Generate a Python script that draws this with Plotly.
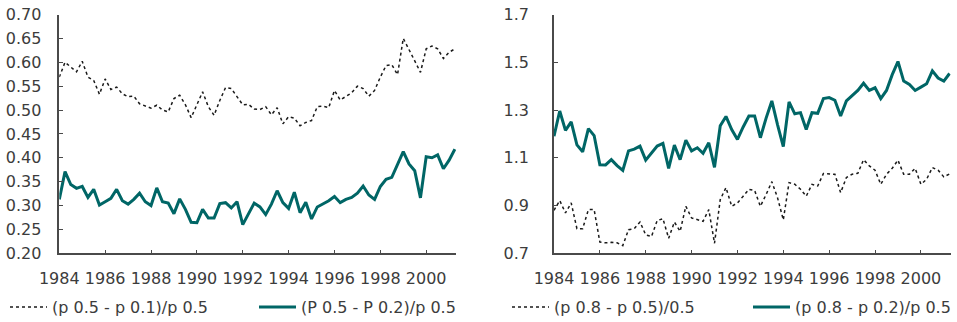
import plotly.graph_objects as go
from plotly.subplots import make_subplots

# Quarterly observations, 1984Q1 .. 2001Q2
start_year = 1984
n_quarters = 70
quarters = [start_year + i / 4 for i in range(n_quarters)]

# Left panel: lower-tail ratios
p50_p10 = [0.569, 0.600, 0.590, 0.580, 0.602, 0.569, 0.562, 0.533, 0.565, 0.543,
           0.548, 0.534, 0.528, 0.529, 0.513, 0.508, 0.504, 0.510, 0.500, 0.496,
           0.524, 0.531, 0.511, 0.484, 0.512, 0.538, 0.507, 0.489, 0.520, 0.547,
           0.545, 0.527, 0.511, 0.512, 0.502, 0.501, 0.507, 0.490, 0.505, 0.471,
           0.486, 0.483, 0.467, 0.474, 0.478, 0.507, 0.508, 0.505, 0.541, 0.521,
           0.528, 0.536, 0.550, 0.545, 0.529, 0.541, 0.569, 0.593, 0.595, 0.574,
           0.650, 0.628, 0.603, 0.579, 0.628, 0.634, 0.628, 0.608, 0.621, 0.628]
p50_p20 = [0.313, 0.371, 0.344, 0.336, 0.340, 0.317, 0.334, 0.301, 0.308, 0.315,
           0.334, 0.310, 0.303, 0.313, 0.326, 0.308, 0.300, 0.337, 0.308, 0.305,
           0.283, 0.314, 0.292, 0.265, 0.264, 0.292, 0.274, 0.274, 0.304, 0.306,
           0.295, 0.308, 0.260, 0.282, 0.305, 0.297, 0.281, 0.303, 0.331, 0.306,
           0.294, 0.328, 0.285, 0.307, 0.272, 0.297, 0.303, 0.310, 0.319, 0.306,
           0.313, 0.317, 0.326, 0.341, 0.322, 0.313, 0.340, 0.355, 0.359, 0.385,
           0.413, 0.387, 0.373, 0.316, 0.402, 0.400, 0.406, 0.377, 0.395, 0.418]

# Right panel: upper-tail and wider spread ratios
p80_p50 = [0.880, 0.921, 0.869, 0.911, 0.803, 0.803, 0.883, 0.883, 0.747, 0.744,
           0.746, 0.744, 0.732, 0.799, 0.803, 0.831, 0.777, 0.770, 0.837, 0.845,
           0.763, 0.831, 0.792, 0.897, 0.848, 0.841, 0.834, 0.883, 0.742, 0.925,
           0.975, 0.897, 0.911, 0.939, 0.968, 0.963, 0.897, 0.946, 1.000, 0.932,
           0.840, 0.996, 0.989, 0.968, 0.939, 0.989, 0.982, 1.034, 1.031, 1.031,
           0.954, 1.017, 1.031, 1.035, 1.092, 1.066, 1.048, 0.989, 1.031, 1.056,
           1.090, 1.031, 1.031, 1.056, 0.989, 1.010, 1.059, 1.048, 1.020, 1.032]
p80_p20 = [1.190, 1.296, 1.215, 1.250, 1.154, 1.125, 1.222, 1.193, 1.071, 1.070,
           1.092, 1.067, 1.047, 1.129, 1.136, 1.149, 1.090, 1.119, 1.149, 1.160,
           1.056, 1.153, 1.092, 1.174, 1.129, 1.142, 1.119, 1.163, 1.060, 1.234,
           1.273, 1.218, 1.177, 1.229, 1.275, 1.275, 1.184, 1.266, 1.338, 1.238,
           1.147, 1.334, 1.284, 1.289, 1.218, 1.289, 1.286, 1.348, 1.352, 1.341,
           1.275, 1.338, 1.362, 1.382, 1.412, 1.382, 1.393, 1.348, 1.382, 1.448,
           1.503, 1.421, 1.407, 1.382, 1.396, 1.410, 1.464, 1.434, 1.421, 1.453]

year_ticks = list(range(1984, 2001, 2))
left_ticks = [0.20, 0.25, 0.30, 0.35, 0.40, 0.45, 0.50, 0.55, 0.60, 0.65, 0.70]
right_ticks = [0.7, 0.9, 1.1, 1.3, 1.5, 1.7]

left_names = ["(p 0.5 - p 0.1)/p 0.5", "(P 0.5 - P 0.2)/p 0.5"]
right_names = ["(p 0.8 - p 0.5)/0.5", "(p 0.8 - p 0.2)/p 0.5"]

TEAL = "#006666"
INK = "#1a1a1a"
TEXT = "#3c3c3c"
AXIS = "#4a4a4a"
FONT = "DejaVu Sans"

W, H = 957, 322
plot_top, plot_bottom = 14.5, 253.3
ydom = [1 - plot_bottom / H, 1 - plot_top / H]

fig = make_subplots(rows=1, cols=2)

dotted = dict(color=INK, width=1.5, dash="3px,3px")
solid = dict(color=TEAL, width=3)

# one legend per series so each key sits under its own panel
series = [
    (p50_p10, left_names[0], dotted, 1, "legend"),
    (p50_p20, left_names[1], solid, 1, "legend2"),
    (p80_p50, right_names[0], dotted, 2, "legend3"),
    (p80_p20, right_names[1], solid, 2, "legend4"),
]
for values, name, style, col, leg in series:
    fig.add_trace(go.Scatter(x=quarters, y=values, mode="lines", line=style,
                             name=name, legend=leg), row=1, col=col)

xcommon = dict(
    range=[1984, 2001.3], tickvals=year_ticks, ticktext=[str(y) for y in year_ticks],
    ticks="inside", ticklen=4, tickwidth=1.3, tickcolor=AXIS,
    showline=True, linecolor=AXIS, linewidth=1.5, showgrid=False, zeroline=False,
    tickfont=dict(family=FONT, size=16, color=TEXT), ticklabelstandoff=10,
    tickangle=0, automargin=False,
)
ycommon = dict(
    ticks="inside", ticklen=4, tickwidth=1.3, tickcolor=AXIS,
    showline=True, linecolor=AXIS, linewidth=1.5, showgrid=False, zeroline=False,
    tickfont=dict(family=FONT, size=16, color=TEXT), automargin=False,
)


def legend_at(px):
    return dict(orientation="h", x=px / W, xanchor="left", y=1 - 307 / H, yanchor="middle",
                itemwidth=37, bgcolor="rgba(0,0,0,0)", borderwidth=0,
                font=dict(family=FONT, size=16, color=TEXT))


fig.update_layout(
    width=W, height=H, template="none",
    margin=dict(l=0, r=0, t=0, b=0, autoexpand=False),
    paper_bgcolor="white", plot_bgcolor="white",
    font=dict(family=FONT, size=16, color=TEXT),
    xaxis=dict(domain=[59.3 / W, 456 / W], **xcommon),
    xaxis2=dict(domain=[554 / W, 950.7 / W], **xcommon),
    yaxis=dict(domain=ydom, range=[0.20, 0.70], tickvals=left_ticks,
               ticktext=[f"{v:.2f}" for v in left_ticks], ticklabelstandoff=13, **ycommon),
    yaxis2=dict(domain=ydom, range=[0.7, 1.7], tickvals=right_ticks,
                ticktext=[f"{v:.1f}" for v in right_ticks], ticklabelstandoff=20, **ycommon),
    legend=legend_at(5),
    legend2=legend_at(254),
    legend3=legend_at(507),
    legend4=legend_at(748),
    showlegend=True,
)

fig.write_html("out.html")
